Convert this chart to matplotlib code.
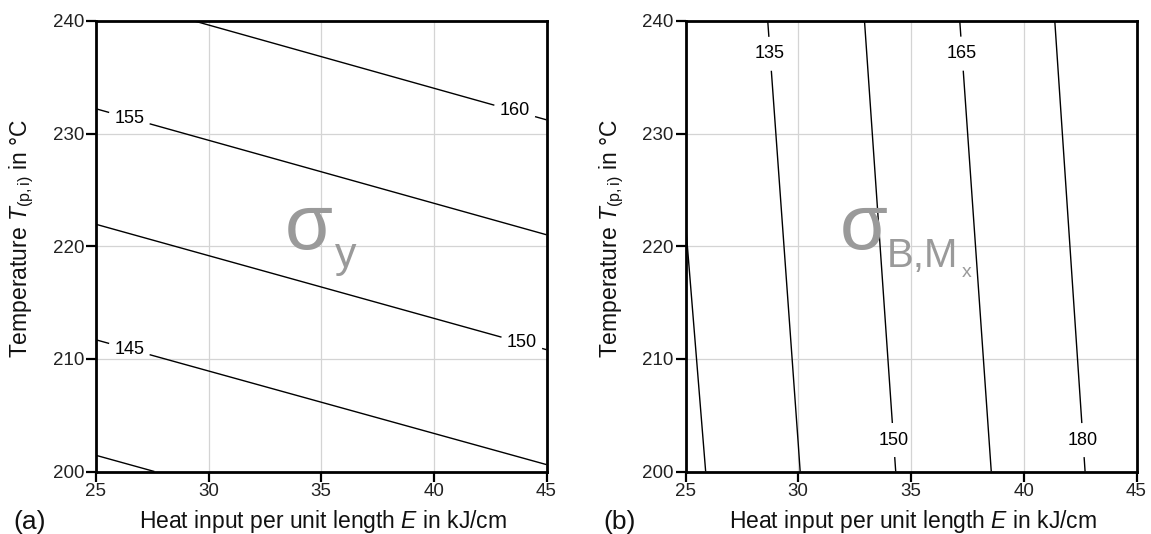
import numpy as np
import matplotlib.pyplot as plt
from matplotlib.transforms import blended_transform_factory

plt.rcParams['font.family'] = ['Liberation Sans', 'DejaVu Sans']
plt.rcParams['mathtext.fontset'] = 'custom'
plt.rcParams['mathtext.rm'] = 'Liberation Sans'
plt.rcParams['mathtext.it'] = 'Liberation Sans:italic'

# (a) yield strength over heat input E (kJ/cm) and temperature T (°C)
E_a = [25, 45]
T_a = [200, 240]
sigma_y = [[139.3, 144.7],
           [158.8, 164.3]]
levels_a = [140, 145, 150, 155, 160]

# (b) bending strength sigma_B,Mx
E_b = [25, 30, 35, 40, 45]
T_b = [200, 240]
sigma_bmx = [[116.8, 134.7, 152.4, 170.1, 188.3],
             [122.6, 139.6, 157.3, 175.1, 192.9]]
levels_b = [120, 135, 150, 165, 180]

xticks = [25, 30, 35, 40, 45]
yticks = [200, 210, 220, 230, 240]

W, H = 1151, 534
fig = plt.figure(figsize=(W / 100, H / 100), dpi=100)
ax1 = fig.add_axes([96 / W, 1 - 471.5 / H, 450.5 / W, 450.5 / H])
ax2 = fig.add_axes([685.5 / W, 1 - 471.5 / H, 451 / W, 450.5 / H])


def style(ax):
    ax.set_xlim(25, 45)
    ax.set_ylim(200, 240)
    ax.set_xticks(xticks)
    ax.set_yticks(yticks)
    ax.grid(color='#d4d4d4', lw=0.9)
    ax.set_axisbelow(True)
    for s in ax.spines.values():
        s.set_linewidth(2.0)
    ax.tick_params(direction='out', length=7, width=1.6, labelsize=13.5,
                   labelcolor='#222222', pad=1.5)
    ax.set_xlabel(r"Heat input per unit length $\mathit{E}$ in kJ/cm",
                  fontsize=16.5, color='#111111', va='baseline')
    ax.set_ylabel(r"Temperature $\mathit{T}_{\mathregular{(p,i)}}$ in °C",
                  fontsize=16.5, color='#111111')
    x0 = ax.get_position().x0
    ax.xaxis.set_label_coords(
        0.505, 1 - 528 / H,
        transform=blended_transform_factory(ax.transAxes, fig.transFigure))
    ax.yaxis.set_label_coords(x0 - 60 / W, 1 - 238 / H,
                              transform=fig.transFigure)


style(ax1)
style(ax2)

# contour lines; labels only where placed, kept upright
cs1 = ax1.contour(E_a, T_a, sigma_y, levels=levels_a, colors='black',
                  linewidths=1.0, zorder=3)
txt1 = ax1.clabel(cs1, fmt='%d', fontsize=13,
                  inline=True, inline_spacing=6,
                  manual=[(26.5, 211.0), (43.9, 211.4),
                          (26.5, 231.5), (43.6, 232.1)])
for t in txt1:
    t.set_rotation(0)

cs2 = ax2.contour(E_b, T_b, sigma_bmx, levels=levels_b, colors='black',
                  linewidths=1.0, zorder=3)
txt2 = ax2.clabel(cs2, fmt='%d', fontsize=13,
                  inline=True, inline_spacing=2,
                  manual=[(28.84, 237.1), (34.26, 202.8),
                          (37.26, 237.1), (42.71, 202.8)])
for t in txt2:
    t.set_rotation(0)

# big symbols in the middle of each panel
gray = '#9a9a9a'
ax1.text(0.418, 0.494, 'σ', transform=ax1.transAxes, fontsize=56,
         color=gray, ha='left', va='baseline')
ax1.text(0.530, 0.454, 'y', transform=ax1.transAxes, fontsize=31,
         color=gray, ha='left', va='baseline')

ax2.text(0.342, 0.494, 'σ', transform=ax2.transAxes, fontsize=56,
         color=gray, ha='left', va='baseline')
ax2.text(0.447, 0.454, 'B,M', transform=ax2.transAxes, fontsize=29,
         color=gray, ha='left', va='baseline')
ax2.text(0.613, 0.432, 'x', transform=ax2.transAxes, fontsize=14,
         color=gray, ha='left', va='baseline')

fig.text(13 / W, 1 - 528.5 / H, '(a)', fontsize=19, color='#111111',
         va='baseline')
fig.text(603 / W, 1 - 528.5 / H, '(b)', fontsize=19, color='#111111',
         va='baseline')

fig.savefig('out.png', dpi=100)
